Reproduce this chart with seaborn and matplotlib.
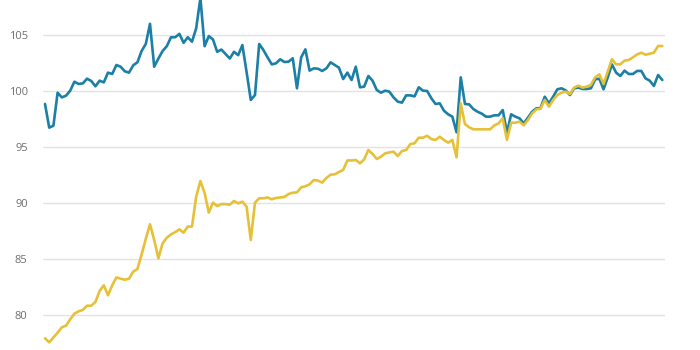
import numpy as np
import pandas as pd
import matplotlib
matplotlib.use("Agg")
import matplotlib.pyplot as plt
import seaborn as sns

blue_values = [
    98.84, 96.73, 96.9, 99.85, 99.43, 99.58, 100.03, 100.83, 100.63, 100.68,
    101.1, 100.9, 100.42, 100.92, 100.77, 101.64, 101.52, 102.32, 102.17, 101.76,
    101.64, 102.29, 102.56, 103.57, 104.2, 106.0, 102.17, 102.9, 103.57, 104.0,
    104.8, 104.8, 105.1, 104.3, 104.8, 104.4, 105.6, 108.3, 104.0, 104.9,
    104.6, 103.5, 103.7, 103.3, 102.9, 103.5, 103.2, 104.1, 101.7, 99.2,
    99.64, 104.2, 103.66, 103.0, 102.38, 102.47, 102.83, 102.59, 102.62, 102.92,
    100.24, 103.0, 103.72, 101.82, 102.02, 101.99, 101.79, 102.02, 102.56, 102.32,
    102.08, 101.07, 101.64, 100.98, 102.17, 100.33, 100.39, 101.34, 100.92, 100.09,
    99.85, 100.03, 99.94, 99.43, 99.05, 98.96, 99.61, 99.61, 99.52, 100.33,
    100.03, 100.0, 99.35, 98.84, 98.9, 98.24, 97.92, 97.71, 96.31, 101.22,
    98.84, 98.81, 98.39, 98.15, 97.98, 97.71, 97.71, 97.83, 97.83, 98.3,
    96.28, 97.92, 97.71, 97.56, 97.11, 97.62, 98.15, 98.45, 98.48, 99.49,
    98.9, 99.49, 100.15, 100.24, 100.05, 99.64, 100.24, 100.3, 100.18, 100.18,
    100.24, 101.04, 101.1, 100.15, 101.22, 102.38, 101.64, 101.34, 101.82, 101.52,
    101.52, 101.79, 101.79, 101.13, 100.92, 100.45, 101.43, 100.98,
]

yellow_values = [
    77.92, 77.56, 78.0, 78.42, 78.9, 79.05, 79.61, 80.12, 80.33, 80.45,
    80.83, 80.83, 81.16, 82.14, 82.65, 81.76, 82.65, 83.36, 83.24, 83.15,
    83.24, 83.87, 84.11, 85.4, 86.8, 88.1, 86.7, 85.06, 86.4, 86.9,
    87.2, 87.4, 87.65, 87.35, 87.9, 87.9, 90.57, 91.96, 90.9, 89.14,
    90.03, 89.73, 89.9, 89.9, 89.85, 90.18, 89.97, 90.12, 89.67, 86.7,
    90.03, 90.42, 90.42, 90.5, 90.33, 90.45, 90.5, 90.54, 90.8, 90.92,
    90.95, 91.4, 91.49, 91.67, 92.05, 92.0, 91.82, 92.23, 92.53, 92.56,
    92.77, 92.95, 93.8, 93.8, 93.84, 93.54, 93.9, 94.73, 94.38, 93.93,
    94.14, 94.43, 94.52, 94.58, 94.2, 94.64, 94.73, 95.27, 95.33, 95.83,
    95.83, 96.0, 95.71, 95.63, 95.92, 95.63, 95.39, 95.63, 94.08, 98.9,
    97.05, 96.76, 96.58, 96.58, 96.58, 96.58, 96.58, 96.93, 97.11, 97.56,
    95.63, 97.17, 97.17, 97.26, 96.93, 97.41, 98.0, 98.36, 98.42, 99.2,
    98.6, 99.2, 99.64, 99.85, 99.94, 99.73, 100.3, 100.48, 100.3, 100.39,
    100.54, 101.22, 101.49, 100.63, 101.73, 102.83, 102.38, 102.38, 102.71, 102.77,
    103.0, 103.27, 103.42, 103.24, 103.33, 103.42, 104.02, 104.02,
]

y_ticks = [80, 85, 90, 95, 100, 105]

periods = list(range(len(blue_values)))
df = pd.DataFrame({
    "period": periods * 2,
    "value": blue_values + yellow_values,
    "series": ["blue"] * len(blue_values) + ["yellow"] * len(yellow_values),
})

sns.set_theme(style="white")
plt.rcParams["font.family"] = ["Open Sans", "DejaVu Sans"]

fig = plt.figure(figsize=(7, 3.5), dpi=100)
ax = fig.add_axes([43 / 700, 0.0, 622 / 700, 1.0])

sns.lineplot(
    data=df, x="period", y="value", hue="series",
    palette={"blue": "#1b7fa6", "yellow": "#e6c137"},
    linewidth=1.9, legend=False, ax=ax, zorder=3,
)

ax.set_xlim(-0.48, 147.64)
ax.set_ylim(76.875, 108.125)
ax.set_yticks(y_ticks)
ax.set_yticklabels([str(t) for t in y_ticks])
ax.set_xticks([])
ax.set_xlabel("")
ax.set_ylabel("")
ax.grid(axis="y", color="#e3e3e3", linewidth=1.0, zorder=0)
ax.grid(axis="x", visible=False)
ax.tick_params(axis="y", length=0, pad=11, labelsize=8, labelcolor="#6e6e6e")
for s in ax.spines.values():
    s.set_visible(False)

fig.savefig("out.png", dpi=100)
